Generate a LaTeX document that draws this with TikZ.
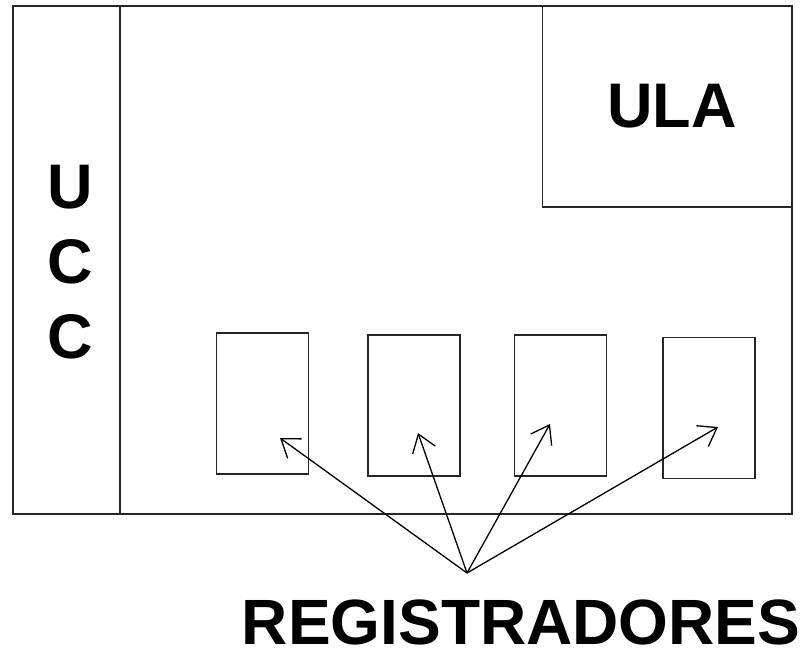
\documentclass[tikz,border=0pt]{standalone}
\usepackage{fontspec}
\setmainfont{Liberation Sans}
\usetikzlibrary{arrows.meta}
\begin{document}
\begin{tikzpicture}[x=1pt,y=-1pt,
  box/.style={draw=black!85, line width=1.8pt, inner sep=0pt, fill=none},
  reg/.style={box, minimum width=92pt, minimum height=141pt},
  lbl/.style={inner sep=0pt, text depth=0pt, font=\fontsize{63}{63}\selectfont\bfseries},
  ptr/.style={draw=black, line width=1.3pt, -{Straight Barb[length=17pt,width=24pt,line width=1.3pt]}}]
\path[fill=white,use as bounding box] (0,0) rectangle (805,650);
% outer frame and UCC column
\node[box, minimum width=779pt, minimum height=508pt] (frame) at (402.5,260) {};
\node[box, minimum width=107pt, minimum height=508pt] (ucc) at (66.5,260) {};
\node[box, minimum width=249pt, minimum height=201pt] (ula) at (667,106.5) {};
% registers
\node[reg] (r1) at (262.5,403.5) {};
\node[reg] (r2) at (414,405.5) {};
\node[reg] (r3) at (560.5,405.5) {};
\node[reg] (r4) at (709,408) {};
% labels
\node[lbl, anchor=base] (tula) at (672,128) {ULA};
\node[lbl, anchor=base] (tu) at (70,208) {U};
\node[lbl, anchor=base] (tc1) at (70,283) {C};
\node[lbl, anchor=base] (tc2) at (70,358) {C};
\node[lbl, anchor=base, font=\fontsize{64}{64}\selectfont\bfseries] (treg) at (521,644) {REGISTRADORES};
% arrows
\coordinate (src) at (467,573);
\coordinate (a1) at (280,438);
\coordinate (a2) at (418,433);
\coordinate (a3) at (550,424);
\coordinate (a4) at (718,427);
\draw[ptr] (src) -- (a1);
\draw[ptr] (src) -- (a2);
\draw[ptr] (src) -- (a3);
\draw[ptr] (src) -- (a4);
\end{tikzpicture}
\end{document}
